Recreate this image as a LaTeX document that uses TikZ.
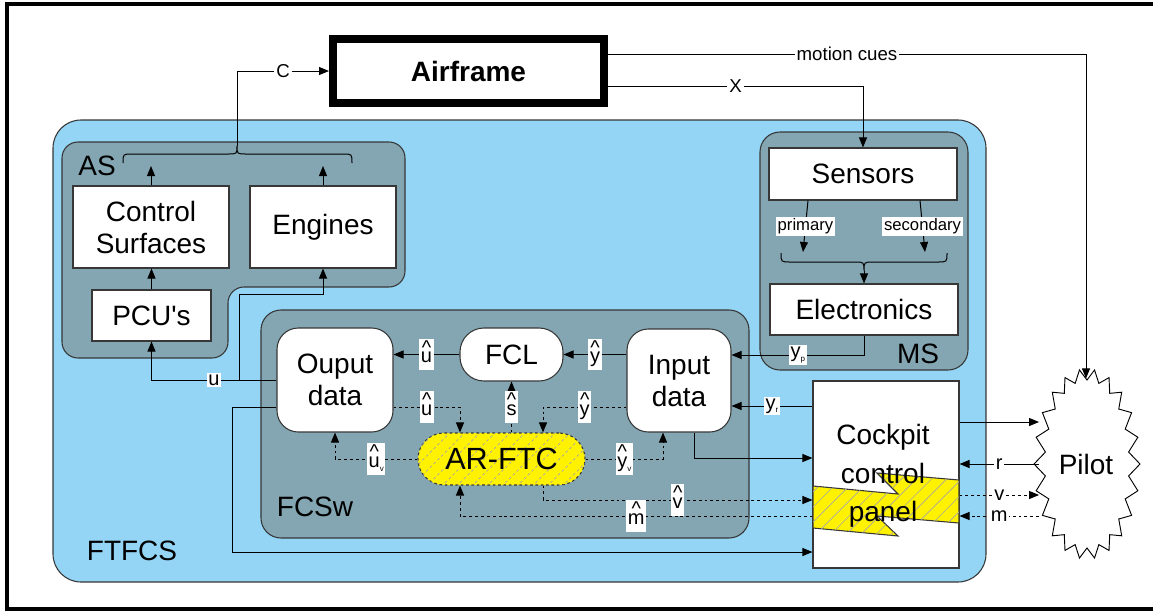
\documentclass[tikz,border=0pt]{standalone}
\usepackage{fontspec}
\setmainfont{Liberation Sans}
\usetikzlibrary{arrows.meta,patterns.meta,calc,shapes.geometric}

\definecolor{skyfill}{RGB}{148,213,245}
\definecolor{slatefill}{RGB}{131,166,178}
\definecolor{ftcyellow}{RGB}{255,242,0}
\definecolor{edgegray}{RGB}{55,55,55}

% caret set above a letter, aligned on the letter's baseline
\newcommand\hatted[1]{\begin{tabular}[b]{@{}c@{}}\textasciicircum\\[-8.5pt]#1\end{tabular}}
% tiny lowered index
\newcommand\subs[1]{\raisebox{-0.35ex}{\fontsize{6}{6}\selectfont #1}}

\tikzset{
  big/.style={font=\fontsize{21}{24}\selectfont, align=center},
  size/.style 2 args={minimum width=#1*0.75pt, minimum height=#2*0.75pt},
  whitebox/.style={draw=edgegray, fill=white, line width=0.8pt, inner sep=0pt},
  region/.style={draw=edgegray, fill=slatefill, line width=0.8pt},
  conn/.style={line width=0.75pt, -{Triangle[length=7.5pt,width=6pt]}},
  plain/.style={line width=0.75pt},
  dots/.style={dash pattern=on 2.2pt off 2.2pt},
  lbl/.style={fill=white, inner sep=1.2pt, font=\fontsize{15}{15}\selectfont},
  small/.style={fill=white, inner sep=1.5pt, font=\fontsize{14}{14}\selectfont},
  tag/.style={fill=white, inner sep=1.5pt, font=\fontsize{12.5}{12.5}\selectfont},
  hatch/.style={postaction={pattern={Lines[angle=45,distance=8pt,line width=0.5pt]}, pattern color=black!35}}
}

\begin{document}
\begin{tikzpicture}[x=0.75pt,y=-0.75pt]
\useasboundingbox (0,0) rectangle (1153,611);
\clip (0,0) rectangle (1153,611);

% outer frame
\draw[line width=3pt] (7,4) rectangle (1175,609);

% FTFCS container
\draw[draw=edgegray, fill=skyfill, line width=0.8pt, rounded corners=21pt] (53,120) rectangle (986,582);
\node[big] (ftfcs) at (132,551) {FTFCS};

% actuation system (L-shaped)
\draw[region, rounded corners=12pt] (62,142) -- (405,142) -- (405,287) -- (228,287) -- (228,358) -- (62,358) -- cycle;
\node[big] (aslbl) at (97,166) {AS};

% measurement system
\draw[region, rounded corners=15pt] (760,132) rectangle (968,370);
\node[big] (mslbl) at (918,354) {MS};

% flight control software
\draw[region, rounded corners=15pt] (261,310) rectangle (749,538);
\node[big] (fcswlbl) at (315,507) {FCSw};

% blocks
\node[draw=black, line width=6pt, fill=white, inner sep=0pt, size={271}{64},
      font=\bfseries\fontsize{21}{24}\selectfont] (airframe) at (468.5,71) {Airframe};

\node[whitebox, big, size={156}{82}] (cs) at (151,227) {Control\\Surfaces};
\node[whitebox, big, size={146}{82}] (eng) at (323,227) {Engines};
\node[whitebox, big, size={119}{51}] (pcu) at (151.5,315.5) {PCU\textquotesingle s};

\node[whitebox, big, size={188}{52}] (sens) at (863,174) {Sensors};
\node[whitebox, big, size={188}{51}] (elec) at (864,309.5) {Electronics};

\node[whitebox, big, rounded corners=16pt, size={116}{104}] (outd) at (335,380) {Ouput\\data};
\node[whitebox, big, rounded corners=18pt, size={103}{53}] (fcl) at (511.5,354.5) {FCL};
\node[whitebox, big, rounded corners=16pt, size={104}{103}] (ind) at (679,380.5) {Input\\data};
\node[draw=edgegray, line width=0.8pt, dash pattern=on 2pt off 2pt, fill=ftcyellow, hatch,
      rounded corners=19.5pt, inner sep=0pt, size={167}{52},
      font=\fontsize{23}{26}\selectfont] (arftc) at (501.5,459) {AR-FTC};

% cockpit control panel with its broken band
\node[whitebox, size={146}{187}] (cockpit) at (886,474.5) {};
\filldraw[fill=ftcyellow, draw=edgegray, line width=0.8pt, hatch]
  (813,486) -- (898,494) -- (877,473) -- (959,480) -- (959,523) -- (877,516) -- (898,536) -- (813,528) -- cycle;
\node[align=center, font=\fontsize{21}{29}\selectfont] (cptext) at (883,476) {Cockpit\\control\\panel};

% pilot
\draw[fill=white, line width=0.7pt] (1140,464)
  \foreach \i [evaluate=\i as \ra using {mod(\i,2)==0 ? 53 : 42},
               evaluate=\i as \rb using {mod(\i,2)==0 ? 95 : 84}] in {1,...,43}
  { -- ({1087+\ra*cos(\i*360/44)},{464+\rb*sin(\i*360/44)}) } -- cycle;
\node[ellipse, minimum width=70pt, minimum height=128pt, inner sep=0pt, big] (pilot) at (1086,464) {Pilot};

% braces
\coordinate (asjoin) at (237,146);
\coordinate (braceL) at (151,166);
\coordinate (braceR) at (323,166);
\draw[plain] (123,163) .. controls (123,154) .. (132,154) -- (228,154) .. controls (237,154) .. (asjoin)
  .. controls (237,154) .. (246,154) -- (343,154) .. controls (352,154) .. (352,163);
\coordinate (msjoin) at (864,271);
\draw[plain] (781,253) .. controls (781,262) .. (790,262) -- (855,262) .. controls (864,262) .. (msjoin)
  .. controls (864,262) .. (873,262) -- (938,262) .. controls (947,262) .. (947,253);

% actuation paths
\draw[conn] (asjoin) |- node[small, pos=0.75] {C} (airframe.west);
\draw[conn] (cs.north) -- (braceL);
\draw[conn] (eng.north) -- (braceR);
\draw[conn] (pcu.north) -- (pcu.north |- cs.south);
\draw[conn] (outd.west) -| node[lbl, pos=0.25] {u} (pcu.south);
\coordinate (ujoin) at (239,380);
\draw[conn] (ujoin) |- ($(eng.south)+(0,26)$) -- (eng.south);

% airframe outputs
\draw[conn] (airframe.east |- 0,86) -| node[small, pos=0.25] {X} (sens.north);
\draw[conn] (airframe.east |- 0,54) -| node[small, pos=0.25] {motion cues} (pilot.north);

% measurement chain
\coordinate (pri) at (803,252);
\coordinate (sec) at (925,252);
\draw[conn] (sens.south -| 808,0) -- node[tag] {primary} (pri);
\draw[conn] (sens.south -| 920,0) -- node[tag] {secondary} (sec);
\draw[conn] (msjoin) -- (elec.north);
\draw[conn] (elec.south) |- node[lbl, pos=0.75] {y\subs{p}} (ind.east |- 0,355);

% nominal loop
\draw[conn] (ind.west |- fcl.east) -- node[lbl] {\hatted{y}} (fcl.east);
\draw[conn] (fcl.west) -- node[lbl] {\hatted{u}} (outd.east |- fcl.west);

% AR-FTC links
\draw[conn, dots] (outd.east |- 0,407) -| node[lbl, pos=0.25] {\hatted{u}} (arftc.north -| 460,0);
\draw[conn, dots] (arftc.north -| fcl.south) -- node[lbl] {\hatted{s}} (fcl.south);
\draw[conn, dots] (ind.west |- 0,407) -| node[lbl, pos=0.25] {\hatted{y}} (arftc.north -| 543,0);
\draw[conn, dots] (arftc.west) -| node[lbl, pos=0.25] {\hatted{u}\subs{v}} (outd.south -| 335,0);
\draw[conn, dots] (arftc.east) -| node[lbl, pos=0.25] {\hatted{y}\subs{v}} (ind.south -| 663,0);
\draw[conn, dots] (arftc.south -| 543,0) |- node[lbl, pos=0.75] {\hatted{v}} (cockpit.west |- 0,500);
\draw[conn, dots] (cockpit.west |- 0,516) -| node[lbl, pos=0.25] {\hatted{m}} (arftc.south -| 460,0);

% cockpit links
\draw[conn] (cockpit.west |- 0,406) -- node[lbl] {y\subs{r}} (ind.east |- 0,406);
\draw[conn] (ind.south -| 694,0) |- (cockpit.west |- 0,458);
\draw[conn] (outd.west |- 0,407) -- (232,407) -- (232,552) -- (cockpit.west |- 0,552);

% pilot links
\draw[conn] (cockpit.east |- 0,422) -- (pilot.west |- 0,422);
\draw[conn] (pilot.west |- 0,464) -- node[lbl] {r} (cockpit.east |- 0,464);
\draw[conn, dots] (cockpit.east |- 0,495) -- node[lbl] {v} (pilot.west |- 0,495);
\draw[conn, dots] (pilot.west |- 0,516) -- node[lbl] {m} (cockpit.east |- 0,516);

\end{tikzpicture}
\end{document}
